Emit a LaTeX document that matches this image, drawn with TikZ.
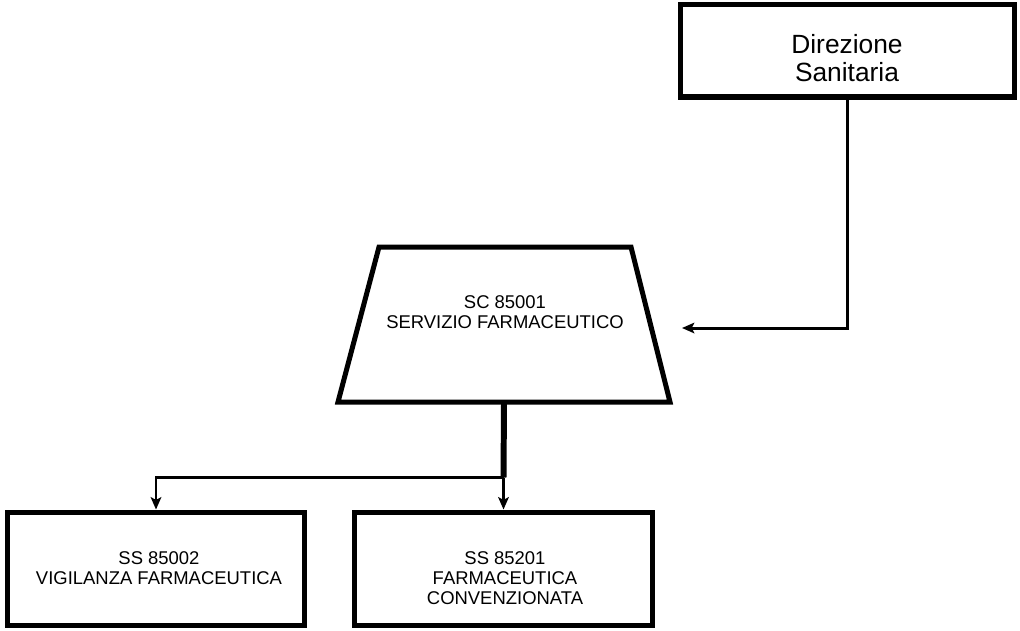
\documentclass[tikz,border=0pt]{standalone}
\usepackage{fontspec}
\setmainfont{Liberation Sans}
\usetikzlibrary{arrows.meta,positioning,calc}

\begin{document}
\begin{tikzpicture}[x=0.02cm,y=-0.02cm]
 \tikzset{unit/.style={rectangle, draw, line width=2.85pt, minimum width=5.95cm, minimum height=2.26cm, inner sep=0pt},
          small/.style={align=center, font=\fontsize{10.5}{11.3}\selectfont},
          conn/.style={line width=1.7pt, -{Stealth[length=7pt,width=6pt,inset=1.5pt]}}};
  \useasboundingbox (0,0) rectangle (1020,630);
  \node[unit, minimum width=6.7cm, minimum height=1.86cm] (dir) at (847.5,50.5) {};
  \node[align=center, font=\fontsize{15}{16}\selectfont] (dirtxt) at (847,58.5) {Direzione\\Sanitaria};
  \draw[line width=2.85pt, line join=miter] (379,247) -- (631,247) -- (670,402) -- (338,402) -- cycle;
  \coordinate (scbot) at (504,402);
  \node[small] (sc) at (505,312) {SC 85001\\SERVIZIO FARMACEUTICO};
  \node[unit] (vig) at (156,568.5) {};
  \node[small] (vigtxt) at (159,568) {SS 85002\\VIGILANZA FARMACEUTICA};
  \node[unit] (conv) at (503.5,568.5) {};
  \node[small] (convtxt) at (505,578) {SS 85201\\FARMACEUTICA\\CONVENZIONATA};
  \coordinate (entry) at (682,328);
  \coordinate (junc) at (503.5,477.5);
  \draw[conn] (dir.south) |- (entry);
  \draw[line width=3.4pt] (scbot) -- (junc);
  \draw[conn] (junc) -| (vig.north);
  \draw[conn] (junc) -- (conv.north);
\end{tikzpicture}
\end{document}
